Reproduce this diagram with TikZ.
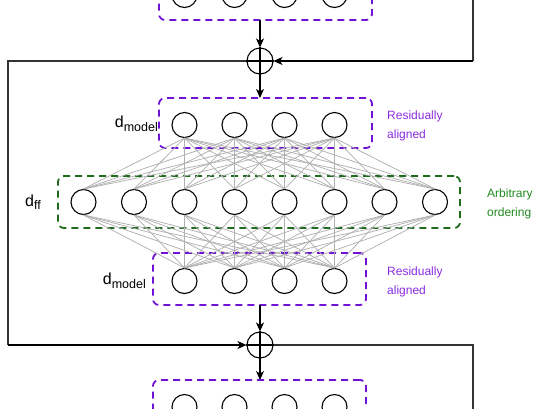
\documentclass[tikz,border=0pt]{standalone}
\usepackage{fontspec}
\setmainfont{Liberation Sans}
\usetikzlibrary{arrows.meta}
\definecolor{purp}{HTML}{6F12D6}
\definecolor{purptext}{HTML}{8A2BE2}
\definecolor{grn}{HTML}{1E6B1E}
\definecolor{grntext}{HTML}{1F8A1F}
\definecolor{conn}{HTML}{B0B0B0}
\tikzset{
  neuron/.style={circle, draw=black, line width=1.1pt, minimum size=25pt, inner sep=0pt},
  purpbox/.style={draw=purp, line width=1.8pt, dash pattern=on 7pt off 5pt, rounded corners=6pt},
  grnbox/.style={draw=grn, line width=1.8pt, dash pattern=on 7pt off 5pt, rounded corners=6pt},
  oplusnode/.style={circle, draw=black, line width=1.1pt, minimum size=26pt, inner sep=0pt},
  flow/.style={draw=black, line width=1.1pt, -{Stealth[length=9pt,width=8pt,inset=2.5pt]}},
  skip/.style={draw=black!80, line width=1.1pt},
  wire/.style={draw=conn, line width=0.75pt},
  lbl/.style={font=\fontsize{12}{14}\selectfont, inner sep=0pt},
  note/.style={font=\fontsize{12}{19}\selectfont, align=left, anchor=west, inner sep=0pt},
}
\newcommand{\dsub}[1]{{\fontsize{16}{18}\selectfont d}{\fontsize{12.5}{14}\selectfont\raisebox{-3.5pt}{#1}}}
\begin{document}
\begin{tikzpicture}[x=1pt,y=-1pt]
\useasboundingbox (0,0) rectangle (537,408);
\begin{scope}
\clip (0,0) rectangle (537,408);
% boxes
\node[purpbox, minimum width=213pt, minimum height=52pt] (btop) at (265.5,-6) {};
\node[purpbox, minimum width=213pt, minimum height=50pt] (bm1) at (265.5,123) {};
\node[grnbox, minimum width=402pt, minimum height=52pt] (bff) at (259,202) {};
\node[purpbox, minimum width=213pt, minimum height=52pt] (bm2) at (259.5,279) {};
\node[purpbox, minimum width=213pt, minimum height=52pt] (bbot) at (259.5,406) {};
% neurons
\foreach \i/\x in {1/184.5,2/234.5,3/284.5,4/334.5}{
  \node[neuron] (t\i) at (\x,-5) {};
  \node[neuron] (m\i) at (\x,125) {};
  \node[neuron] (n\i) at (\x,281) {};
  \node[neuron] (b\i) at (\x,407) {};
}
\foreach \j/\x in {1/83.5,2/134,3/184.5,4/234.5,5/284.5,6/334.5,7/384.5,8/435}{
  \node[neuron] (f\j) at (\x,202) {};
}
% wires
\foreach \i in {1,...,4}{
  \foreach \j in {1,...,8}{
    \draw[wire] (m\i.south) -- (f\j.north);
    \draw[wire] (f\j.south) -- (n\i.north);
  }
}
% oplus
\node[oplusnode] (p1) at (260,61) {};
\draw[line width=1.1pt] (p1.north) -- (p1.south) (p1.west) -- (p1.east);
\node[oplusnode] (p2) at (260,345) {};
\draw[line width=1.1pt] (p2.north) -- (p2.south) (p2.west) -- (p2.east);
% coordinates
\coordinate (btopS) at (260,20);
\coordinate (bm1N) at (260,98);
\coordinate (bm2S) at (260,305);
\coordinate (bbotN) at (260,380);
\coordinate (rtop) at (473,-2);
\coordinate (rtopc) at (473,61);
\coordinate (lc1) at (8,61);
\coordinate (lc2) at (8,345);
\coordinate (rbc) at (473,345);
\coordinate (rbot) at (473,410);
% flow
\draw[flow] (btopS) -- (p1.north);
\draw[flow] (p1.south) -- (bm1N);
\draw[flow] (bm2S) -- (p2.north);
\draw[flow] (p2.south) -- (bbotN);
\draw[skip] (p1.west) -- (lc1) -- (lc2);
\draw[flow] (lc2) -- (p2.west);
\draw[skip] (rtop) -- (rtopc);
\draw[flow] (rtopc) -- (p1.east);
\draw[skip] (p2.east) -- (rbc) -- (rbot);
% labels
\node[lbl, anchor=east] (lm1) at (158,124) {\dsub{model}};
\node[lbl, anchor=east] (lm2) at (146,281) {\dsub{model}};
\node[lbl, anchor=west] (lff) at (25,202) {\dsub{ff}};
\node[note, text=purptext] (r1) at (387,126) {Residually\\aligned};
\node[note, text=purptext] (r2) at (387,282) {Residually\\aligned};
\node[note, text=grntext] (ao) at (487,204) {Arbitrary\\ordering};
\end{scope}
\end{tikzpicture}
\end{document}
